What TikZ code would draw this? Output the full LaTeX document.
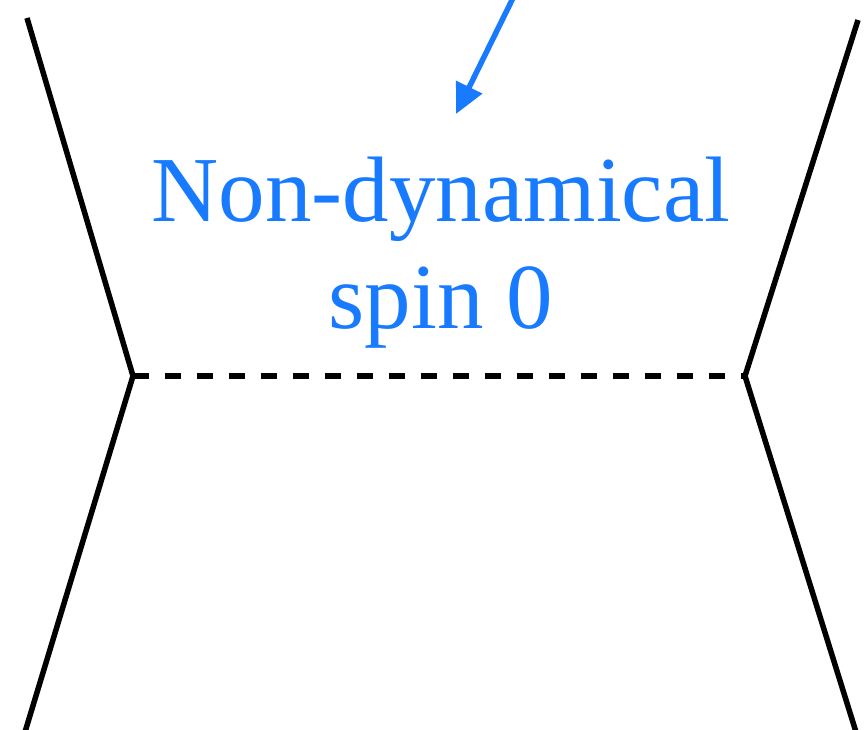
\documentclass[tikz,border=0pt]{standalone}
\usepackage{fontspec}
\setmainfont{Liberation Serif}
\usetikzlibrary{arrows.meta}
\definecolor{lblue}{RGB}{24,122,255}
\begin{document}
\begin{tikzpicture}[x=1pt,y=-1pt,
  leg/.style={line width=5.5pt,black},
  prop/.style={line width=5.5pt,black,dash pattern=on 16pt off 16pt},
  pointer/.style={line width=5.5pt,lblue,-{Triangle[length=30pt,width=28pt]}},
  lbl/.style={text=lblue,font=\fontsize{93}{107}\selectfont,align=center}]
\useasboundingbox (0,0) rectangle (865,730);
\coordinate (tl) at (27,18);
\coordinate (bl) at (25,732);
\coordinate (tr) at (858,20);
\coordinate (br) at (856,732);
\coordinate (vl) at (133,376);
\coordinate (vr) at (745,376);
\coordinate (as) at (513,-2);
\coordinate (ae) at (456,114);
\draw[leg] (tl) -- (vl) -- (bl);
\draw[leg] (tr) -- (vr) -- (br);
\draw[prop] (vl) -- (vr);
\draw[pointer] (as) -- (ae);
\node[lbl] (txt) at (441,253) {Non-dynamical\\spin 0};
\end{tikzpicture}
\end{document}
